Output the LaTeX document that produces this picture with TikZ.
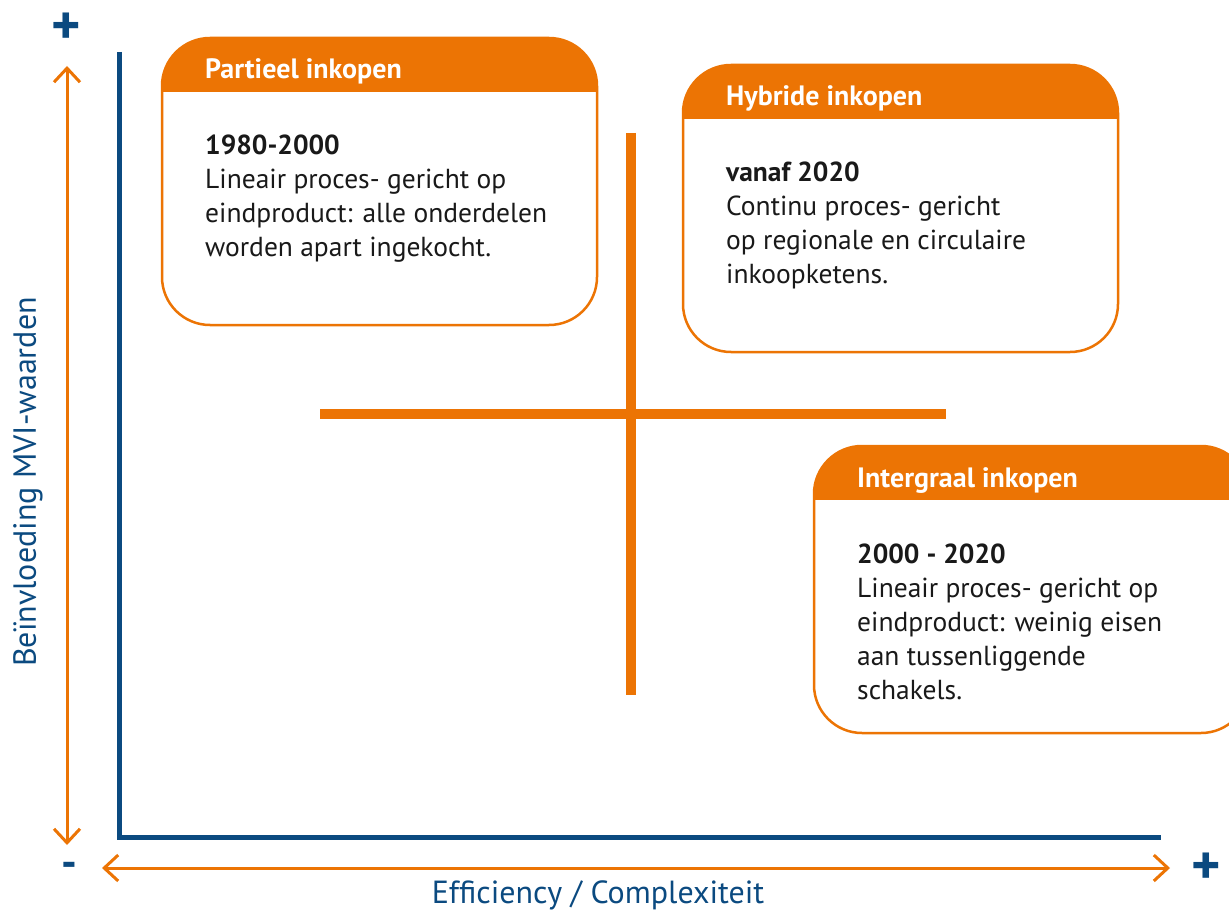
\documentclass[tikz,border=0pt]{standalone}
\usepackage{fontspec}
\setmainfont{PT Sans}
\usetikzlibrary{arrows.meta}
\definecolor{org}{HTML}{EC7404}
\definecolor{navy}{HTML}{0B4A80}
\tikzset{
  axisline/.style={navy, line width=5pt},
  orangearrow/.style={org, line width=3pt, {Straight Barb[length=14pt,width=26pt]}-{Straight Barb[length=14pt,width=26pt]}},
  crossline/.style={org, line width=10pt},
  boxframe/.style={draw=org, line width=2.5pt, rounded corners=48pt},
  headtext/.style={anchor=base west, inner sep=0pt, text=white, font=\fontsize{28}{30}\selectfont\bfseries},
  bodytext/.style={anchor=base west, inner sep=0pt, text=black!90, font=\fontsize{27.5}{34}\selectfont},
  signtext/.style={text=navy, font=\fontsize{56}{56}\selectfont\bfseries, inner sep=0pt},
  minustext/.style={text=navy, font=\fontsize{44}{44}\selectfont\bfseries, inner sep=0pt},
  axislabel/.style={text=navy, font=\fontsize{32}{36}\selectfont, inner sep=0pt}
}
\newcommand{\quadbox}[6]{% x y name head year body
  \begin{scope}[shift={(#1,#2)}]
    \begin{scope}
      \path[clip, rounded corners=48pt] (0,0) rectangle (435,287);
      \fill[white] (0,0) rectangle (435,287);
      \fill[org] (0,0) rectangle (435,54);
    \end{scope}
    \draw[boxframe] (0,0) rectangle (435,287);
    \node[headtext] (#3h) at (43,41) {#4};
    \node[bodytext] (#3b) at (43,117) {\begin{tabular}[t]{@{}l@{}}\textbf{#5}\\#6\end{tabular}};
  \end{scope}}
\begin{document}
\begin{tikzpicture}[x=1pt,y=-1pt]
\useasboundingbox (0,0) rectangle (1229,912);
% blue axes
\coordinate (ytop) at (119,52);
\coordinate (orig) at (119,837);
\coordinate (xend) at (1161,837);
\draw[axisline] (ytop) -- (orig) -- (xend);
% orange arrows
\coordinate (va) at (67,66);
\coordinate (vb) at (67,845);
\draw[orangearrow] (va) -- (vb);
\coordinate (ha) at (102,868);
\coordinate (hb) at (1170,868);
\draw[orangearrow] (ha) -- (hb);
% signs
\node[signtext] (plustop) at (66,29) {+};
\node[minustext] (minus) at (69,870) {-};
\node[signtext] (plusright) at (1206,869) {+};
% axis labels
\node[axislabel] (xlab) at (598,895) {Efficiency / Complexiteit};
\node[axislabel, rotate=90] (ylab) at (28,482) {Beïnvloeding MVI-waarden};
% cross
\coordinate (c1) at (631,133);
\coordinate (c2) at (631,695);
\coordinate (c3) at (320,414);
\coordinate (c4) at (946,414);
\draw[crossline] (c1) -- (c2);
\draw[crossline] (c3) -- (c4);
% boxes
\quadbox{162}{38}{p}{Partieel inkopen}{1980-2000}{Lineair proces- gericht op\\eindproduct: alle onderdelen\\worden apart ingekocht.}
\quadbox{683}{65}{h}{Hybride inkopen}{vanaf 2020}{Continu proces- gericht\\op regionale en circulaire\\inkoopketens.}
\quadbox{814}{446}{i}{Intergraal inkopen}{2000 - 2020}{Lineair proces- gericht op\\eindproduct: weinig eisen\\aan tussenliggende\\schakels.}
\end{tikzpicture}
\end{document}
